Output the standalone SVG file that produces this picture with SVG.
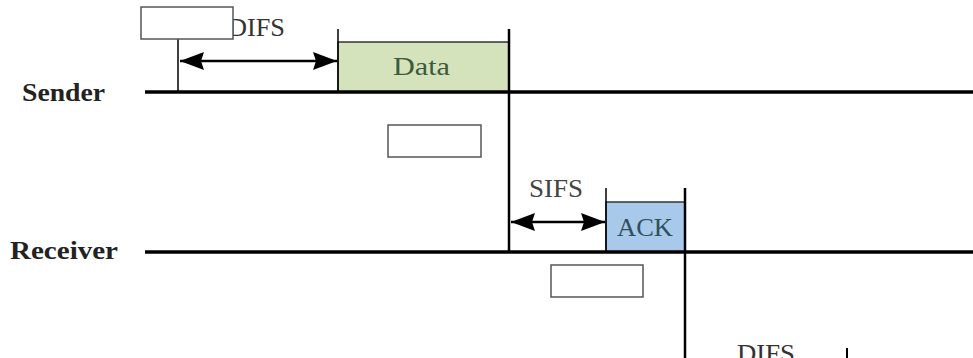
<svg xmlns="http://www.w3.org/2000/svg" width="973" height="358" viewBox="0 0 973 358">
<style>
.lbl{font-family:"Liberation Serif","DejaVu Serif",serif;font-weight:bold;font-size:26px;fill:#222}
.t{font-family:"Liberation Serif","DejaVu Serif",serif;font-size:25px}
.ln{stroke:#000;fill:none}
.blank{fill:#fff;stroke:#555;stroke-width:1.5}
</style>
<defs>
<marker id="ah2" viewBox="0 0 24 18" refX="24" refY="9" markerWidth="24" markerHeight="18" markerUnits="userSpaceOnUse" orient="auto-start-reverse">
<path d="M0,0 L24,9 L0,18 L3,9 Z" fill="#000"/>
</marker>
</defs>
<g id="sender">
<text class="lbl" x="22" y="101" textLength="83" lengthAdjust="spacingAndGlyphs">Sender</text>
</g>
<g id="receiver">
<text class="lbl" x="10" y="259" textLength="108" lengthAdjust="spacingAndGlyphs">Receiver</text>
</g>
<g id="data">
<rect x="338" y="42" width="171" height="50" fill="#d5e3bd" stroke="#333" stroke-width="1.5"/>
<text class="t" x="393" y="75" fill="#3d5a3a" textLength="57" lengthAdjust="spacingAndGlyphs">Data</text>
</g>
<g id="ack">
<rect x="606" y="202" width="79" height="50" fill="#a8c9ea" stroke="#333" stroke-width="1.5"/>
<text class="t" x="617" y="236" fill="#2f4f5c" textLength="56" lengthAdjust="spacingAndGlyphs">ACK</text>
</g>
<g id="difs1">
<text class="t" x="228" y="36" fill="#333" textLength="57" lengthAdjust="spacingAndGlyphs">DIFS</text>
</g>
<g id="sifs">
<text class="t" x="529" y="197" fill="#444" textLength="54" lengthAdjust="spacingAndGlyphs">SIFS</text>
</g>
<g id="difs2">
<text class="t" x="737" y="362" fill="#333" textLength="58" lengthAdjust="spacingAndGlyphs">DIFS</text>
</g>
<g id="connectors">
<line class="ln" x1="145" y1="92" x2="973" y2="92" stroke-width="3.5"/>
<line class="ln" x1="145" y1="252" x2="973" y2="252" stroke-width="3.5"/>
<line class="ln" x1="178" y1="39" x2="178" y2="92" stroke-width="1.5"/>
<line class="ln" x1="338" y1="29" x2="338" y2="92" stroke-width="1.5"/>
<line class="ln" x1="509" y1="29" x2="509" y2="252" stroke-width="2.5"/>
<line class="ln" x1="606" y1="188" x2="606" y2="252" stroke-width="1.5"/>
<line class="ln" x1="685" y1="188" x2="685" y2="358" stroke-width="2.5"/>
<line class="ln" x1="847" y1="348" x2="847" y2="358" stroke-width="2"/>
<line class="ln" x1="180" y1="61" x2="337" y2="61" stroke-width="2.5" marker-start="url(#ah2)" marker-end="url(#ah2)"/>
<line class="ln" x1="511" y1="222" x2="605" y2="222" stroke-width="2.5" marker-start="url(#ah2)" marker-end="url(#ah2)"/>
</g>
<g id="blank1"><rect class="blank" x="141" y="7" width="92" height="32"/></g>
<g id="blank2"><rect class="blank" x="388" y="125" width="93" height="32"/></g>
<g id="blank3"><rect class="blank" x="551" y="265" width="92" height="32"/></g>
</svg>
